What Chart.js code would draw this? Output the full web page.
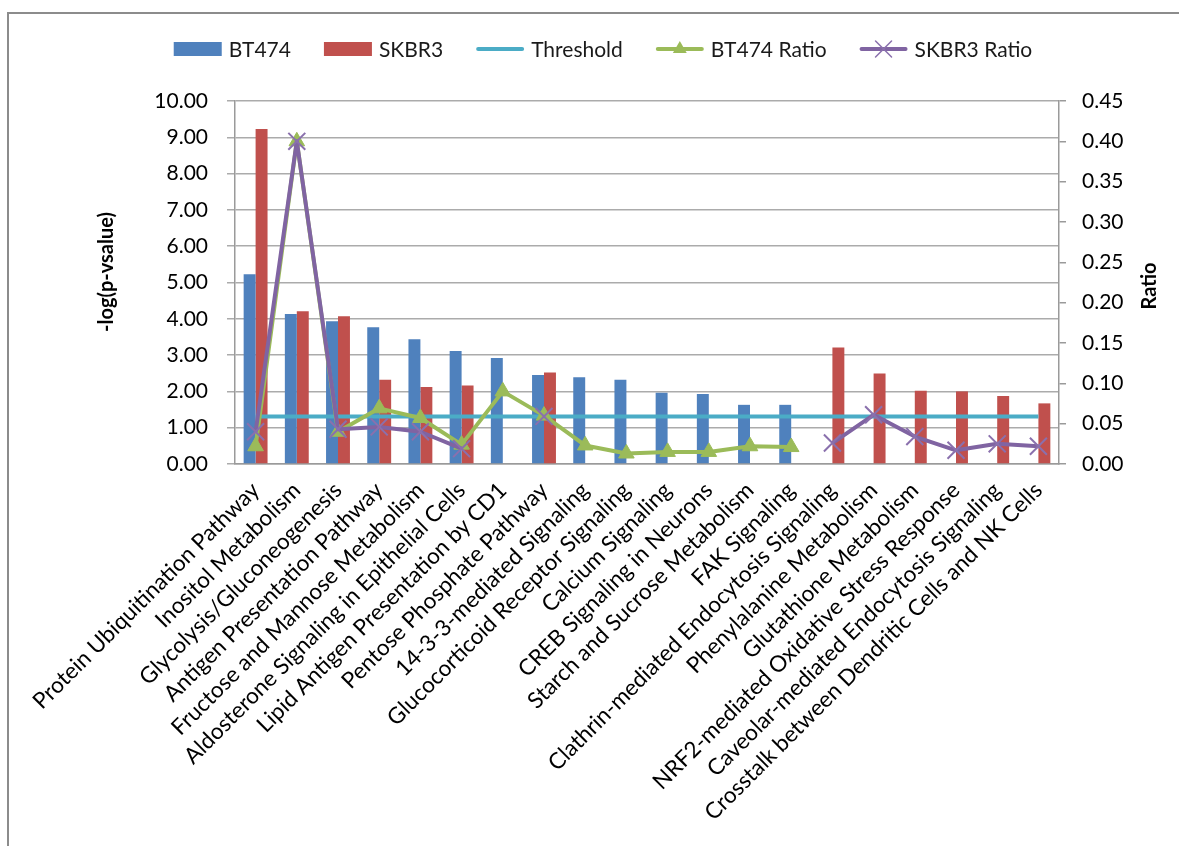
<!DOCTYPE html>
<html>
<head>
<meta charset="utf-8">
<script src="https://cdn.jsdelivr.net/npm/chart.js@4.4.1/dist/chart.umd.min.js"></script>
<style>
  html, body { margin: 0; padding: 0; background: #fff; }
  body { position: relative; width: 1179px; height: 846px; overflow: hidden; }
  #frame { position: absolute; left: 7px; top: 12px; width: 1300px; height: 1000px;
           border-left: 2px solid #8c8c8c; border-top: 2px solid #8c8c8c; }
  #wrap { position: absolute; left: 0; top: 0; width: 1179px; height: 846px; }
</style>
</head>
<body>
<div id="frame"></div>
<div id="wrap"><canvas id="chart"></canvas></div>
<script>
const categories = [
  'Protein Ubiquitination Pathway',
  'Inositol Metabolism',
  'Glycolysis/Gluconeogenesis',
  'Antigen Presentation Pathway',
  'Fructose and Mannose Metabolism',
  'Aldosterone Signaling in Epithelial Cells',
  'Lipid Antigen Presentation by CD1',
  'Pentose Phosphate Pathway',
  '14-3-3-mediated Signaling',
  'Glucocorticoid Receptor Signaling',
  'Calcium Signaling',
  'CREB Signaling in Neurons',
  'Starch and Sucrose Metabolism',
  'FAK Signaling',
  'Clathrin-mediated Endocytosis Signaling',
  'Phenylalanine Metabolism',
  'Glutathione Metabolism',
  'NRF2-mediated Oxidative Stress Response',
  'Caveolar-mediated Endocytosis Signaling',
  'Crosstalk between Dendritic Cells and NK Cells'
];

// -log(p-value) per pathway
const bt474 = [5.23, 4.13, 3.93, 3.77, 3.44, 3.11, 2.92, 2.45, 2.39, 2.32,
               1.96, 1.93, 1.63, 1.63, null, null, null, null, null, null];
const skbr3 = [9.23, 4.21, 4.07, 2.32, 2.12, 2.16, null, 2.52, null, null,
               null, null, null, null, 3.21, 2.49, 2.02, 2.00, 1.87, 1.67];
const threshold = [1.31, 1.31, 1.31, 1.31, 1.31, 1.31, 1.31, 1.31, 1.31, 1.31,
                   1.31, 1.31, 1.31, 1.31, 1.31, 1.31, 1.31, 1.31, 1.31, 1.31];

// ratio of pathway molecules found
const bt474Ratio = [0.022, 0.400, 0.040, 0.069, 0.057, 0.024, 0.090, 0.060, 0.023, 0.013,
                    0.015, 0.015, 0.022, 0.021, null, null, null, null, null, null];
const skbr3Ratio = [0.040, 0.400, 0.043, 0.046, 0.040, 0.019, null, 0.059, null, null,
                    null, null, null, null, 0.026, 0.061, 0.034, 0.017, 0.025, 0.022];

const leftTicks = { min: 0, max: 10, step: 1 };
const rightTicks = { min: 0, max: 0.45, step: 0.05 };
const leftTitle = '-log(p-vsalue)';
const rightTitle = 'Ratio';

const FONT = 'Lato';
const BLUE = '#4F81BD', RED = '#C0504D', CYAN = '#4BACC6', GREEN = '#9BBB59', PURPLE = '#8064A2';
const AXIS = '#9a9a9a';

// legend in the Excel style (swatch or line-with-marker, then the label) and the axis titles
const excelDecor = {
  id: 'excelDecor',
  afterDraw(chart) {
    const ctx = chart.ctx;
    const items = chart.data.datasets;
    const sym = 48, gapText = 7, gapItem = 33, cy = 49;
    ctx.save();
    ctx.font = '21px ' + FONT;
    const widths = items.map(d => sym + gapText + ctx.measureText(d.label).width);
    const total = widths.reduce((a, b) => a + b, 0) + gapItem * (items.length - 1);
    let x = 603 - total / 2;
    items.forEach((d, i) => {
      if (d.type === 'bar') {
        ctx.fillStyle = d.backgroundColor;
        ctx.fillRect(x, cy - 7, sym, 14);
      } else {
        ctx.strokeStyle = d.borderColor;
        ctx.lineWidth = 4;
        ctx.lineCap = 'round';
        ctx.beginPath(); ctx.moveTo(x + 2, cy); ctx.lineTo(x + sym - 2, cy); ctx.stroke();
        const mx = x + sym / 2;
        if (d.pointStyle === 'triangle') {
          const r = 8;
          ctx.fillStyle = d.pointBackgroundColor;
          ctx.beginPath();
          ctx.moveTo(mx, cy - r);
          ctx.lineTo(mx + r * 0.866, cy + r * 0.5);
          ctx.lineTo(mx - r * 0.866, cy + r * 0.5);
          ctx.closePath(); ctx.fill();
        } else if (d.pointStyle === 'crossRot') {
          const r = 8;
          ctx.strokeStyle = d.pointBorderColor;
          ctx.lineWidth = 1.5;
          ctx.beginPath();
          ctx.moveTo(mx - r, cy - r); ctx.lineTo(mx + r, cy + r);
          ctx.moveTo(mx - r, cy + r); ctx.lineTo(mx + r, cy - r);
          ctx.stroke();
        }
      }
      ctx.fillStyle = '#1a1a1a';
      ctx.textBaseline = 'middle';
      ctx.textAlign = 'left';
      ctx.fillText(d.label, x + sym + gapText, cy + 1);
      x += widths[i] + gapItem;
    });

    // axis titles, both reading bottom to top
    const y = chart.scales.y, y1 = chart.scales.y1;
    ctx.font = 'bold 20px ' + FONT;
    ctx.fillStyle = '#000';
    ctx.textAlign = 'center';
    ctx.textBaseline = 'middle';
    const drawV = (text, tx, ty) => {
      ctx.save();
      ctx.translate(tx, ty);
      ctx.rotate(-Math.PI / 2);
      ctx.fillText(text, 0, 0);
      ctx.restore();
    };
    drawV(leftTitle, y.left + 107, y.top + 171);
    drawV(rightTitle, y1.right - 29, y1.top + 185);
    ctx.restore();
  }
};

new Chart(document.getElementById('chart'), {
  data: {
    labels: categories,
    datasets: [
      { type: 'bar', label: 'BT474', data: bt474, backgroundColor: BLUE,
        yAxisID: 'y', order: 4, barPercentage: 1, categoryPercentage: 0.58 },
      { type: 'bar', label: 'SKBR3', data: skbr3, backgroundColor: RED,
        yAxisID: 'y', order: 4, barPercentage: 1, categoryPercentage: 0.58 },
      { type: 'line', label: 'Threshold', data: threshold, borderColor: CYAN,
        borderWidth: 4, pointRadius: 0, yAxisID: 'y', order: 3 },
      { type: 'line', label: 'BT474 Ratio', data: bt474Ratio, borderColor: GREEN,
        borderWidth: 4, pointStyle: 'triangle', pointRadius: 9,
        pointBackgroundColor: GREEN, pointBorderColor: GREEN, pointBorderWidth: 1,
        borderJoinStyle: 'round', yAxisID: 'y1', order: 2 },
      { type: 'line', label: 'SKBR3 Ratio', data: skbr3Ratio, borderColor: PURPLE,
        borderWidth: 4, pointStyle: 'crossRot', pointRadius: 12,
        pointBackgroundColor: PURPLE, pointBorderColor: '#8a70ad', pointBorderWidth: 2,
        borderJoinStyle: 'round', yAxisID: 'y1', order: 1 }
    ]
  },
  options: {
    responsive: true,
    maintainAspectRatio: false,
    animation: false,
    spanGaps: false,
    layout: { padding: { top: 101, left: 0, right: 0, bottom: 0 } },
    plugins: { legend: { display: false }, tooltip: { enabled: false } },
    scales: {
      x: {
        offset: true,
        grid: { display: false, drawTicks: false },
        border: { display: true, color: AXIS, width: 1.5 },
        ticks: {
          autoSkip: false, maxRotation: 45, minRotation: 45, padding: 13,
          color: '#000', font: { family: FONT, size: 22.5 }
        },
        afterFit(s) { s.height = 382; s.paddingLeft = 0; s.paddingRight = 0; }
      },
      y: {
        position: 'left',
        min: leftTicks.min, max: leftTicks.max,
        grid: { color: '#ababab', lineWidth: 1.5, tickLength: 8 },
        border: { display: true, color: AXIS, width: 1.5 },
        ticks: {
          stepSize: leftTicks.step, padding: 19, color: '#000',
          font: { family: FONT, size: 21 },
          callback: v => Number(v).toFixed(2)
        },
        afterFit(s) { s.width = 235; }
      },
      y1: {
        position: 'right',
        min: rightTicks.min, max: rightTicks.max,
        grid: { drawOnChartArea: false, color: AXIS, lineWidth: 1.5, tickLength: 7 },
        border: { display: true, color: AXIS, width: 1.5 },
        ticks: {
          stepSize: rightTicks.step, padding: 16, color: '#000',
          font: { family: FONT, size: 21 },
          callback: v => Number(v).toFixed(2)
        },
        afterFit(s) { s.width = 120; }
      }
    }
  },
  plugins: [excelDecor]
});
</script>
</body>
</html>
